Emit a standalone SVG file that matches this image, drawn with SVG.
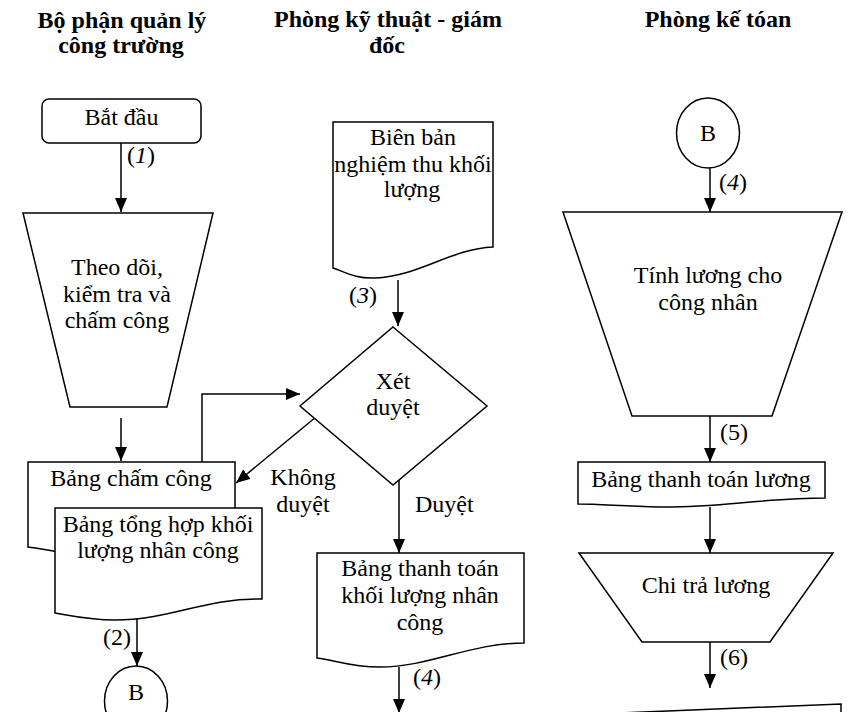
<svg xmlns="http://www.w3.org/2000/svg" width="849" height="712" viewBox="0 0 849 712">
  <defs>
    <marker id="arrow" viewBox="0 0 14 12" refX="14" refY="6" markerWidth="14" markerHeight="12" markerUnits="userSpaceOnUse" orient="auto">
      <path d="M0,0 L14,6 L0,12 Z" fill="#000"/>
    </marker>
    <style>
      .shape { fill: #fff; stroke: #000; stroke-width: 1.5; }
      .line { fill: none; stroke: #000; stroke-width: 1.5; }
      .arr { fill: none; stroke: #000; stroke-width: 1.5; marker-end: url(#arrow); }
      text { font-family: "Liberation Serif", "Times New Roman", serif; font-size: 24px; fill: #000; }
      .title { font-weight: bold; text-anchor: middle; }
      .c { text-anchor: middle; }
      .it { font-style: italic; }
    </style>
  </defs>
  <rect width="849" height="712" fill="#fff"/>

  <!-- lane headings -->
  <g id="lane-headings">
    <text class="title" x="122" y="28">Bộ phận quản lý</text>
    <text class="title" x="121" y="53">công trường</text>
    <text class="title" x="388" y="27">Phòng kỹ thuật - giám</text>
    <text class="title" x="387" y="53">đốc</text>
    <text class="title" x="718" y="27">Phòng kế tóan</text>
  </g>

  <!-- connectors -->
  <g id="connectors">
    <line class="arr" x1="121" y1="143" x2="121" y2="212"/>
    <line class="arr" x1="121" y1="418" x2="121" y2="461"/>
    <polyline class="arr" points="202,462 202,394 300,394"/>
    <line class="arr" x1="316" y1="417" x2="236" y2="483"/>
    <line class="arr" x1="398" y1="280" x2="398" y2="326"/>
    <line class="arr" x1="399" y1="480" x2="399" y2="553"/>
    <line class="arr" x1="399" y1="667" x2="399" y2="713"/>
    <line class="arr" x1="137" y1="619" x2="137" y2="666"/>
    <line class="arr" x1="710" y1="168" x2="710" y2="212"/>
    <line class="arr" x1="710" y1="416" x2="710" y2="462"/>
    <line class="arr" x1="710" y1="507" x2="710" y2="553"/>
    <line class="arr" x1="710" y1="642" x2="710" y2="688"/>
    <text x="127" y="163">(<tspan class="it">1</tspan>)</text>
    <text x="103" y="645">(2)</text>
    <text x="349" y="303">(<tspan class="it">3</tspan>)</text>
    <text x="413" y="685">(<tspan class="it">4</tspan>)</text>
    <text x="719" y="190">(<tspan class="it">4</tspan>)</text>
    <text x="720" y="440">(5)</text>
    <text x="720" y="665">(6)</text>
    <text class="c" x="303" y="485">Không</text>
    <text class="c" x="303" y="512">duyệt</text>
    <text x="415" y="512">Duyệt</text>
  </g>

  <!-- start terminator -->
  <g id="start">
    <rect class="shape" x="42" y="99" width="159" height="44" rx="7"/>
    <text class="c" x="121.5" y="125">Bắt đầu</text>
  </g>

  <!-- manual operation: timekeeping -->
  <g id="timekeeping">
    <polygon class="shape" points="23,213 213,213 167,407 70,407"/>
    <text class="c" x="117" y="275">Theo dõi,</text>
    <text class="c" x="117" y="302">kiểm tra và</text>
    <text class="c" x="117" y="328">chấm công</text>
  </g>

  <!-- stacked documents -->
  <g id="timesheet">
    <path class="shape" d="M28,462 H235 V535 C180,535 140,556 90,555 C70,555 45,549 28,547 Z"/>
    <text class="c" x="131" y="486">Bảng chấm công</text>
  </g>
  <g id="labour-summary">
    <path class="shape" d="M55,508 H262 V599 C205,598 170,620 115,620 C90,620 72,616 55,613 Z"/>
    <text class="c" x="158" y="532">Bảng tổng hợp khối</text>
    <text class="c" x="158" y="558">lượng nhân công</text>
  </g>

  <!-- connector B (left) -->
  <g id="connector-b-left">
    <ellipse class="shape" cx="136" cy="701" rx="31.5" ry="35"/>
    <text class="c" x="136" y="700">B</text>
  </g>

  <!-- acceptance record -->
  <g id="acceptance-record">
    <path class="shape" d="M333,122 H493 V247 C450,249 420,276 375,278 C356,279 345,272 333,268 Z"/>
    <text class="c" x="413" y="145">Biên bản</text>
    <text class="c" x="413" y="172">nghiệm thu khối</text>
    <text class="c" x="412" y="197">lượng</text>
  </g>

  <!-- decision -->
  <g id="review">
    <polygon class="shape" points="393,327 487,406 393,485 300,406"/>
    <text class="c" x="393" y="389">Xét</text>
    <text class="c" x="393" y="415">duyệt</text>
  </g>

  <!-- payment statement -->
  <g id="payment-statement">
    <path class="shape" d="M317,553 H524 V643 C470,643 430,667 380,667 C350,667 335,660 317,658 Z"/>
    <text class="c" x="420" y="576">Bảng thanh toán</text>
    <text class="c" x="420" y="603">khối lượng nhân</text>
    <text class="c" x="420" y="630">công</text>
  </g>

  <!-- connector B (right) -->
  <g id="connector-b-right">
    <ellipse class="shape" cx="708" cy="133" rx="31.5" ry="35"/>
    <text class="c" x="708" y="141">B</text>
  </g>

  <!-- payroll calculation -->
  <g id="payroll">
    <polygon class="shape" points="563,212 842,212 772,416 632,416"/>
    <text class="c" x="708" y="283">Tính lương cho</text>
    <text class="c" x="708" y="310">công nhân</text>
  </g>

  <!-- payroll sheet -->
  <g id="payroll-sheet">
    <path class="shape" d="M578,462 H825 V498 C765,498 715,508 660,507 C620,506 600,504 578,504 Z"/>
    <text class="c" x="701" y="487">Bảng thanh toán lương</text>
  </g>

  <!-- salary payout -->
  <g id="payout">
    <polygon class="shape" points="579,553 833,553 770,642 642,642"/>
    <text class="c" x="706" y="593">Chi trả lương</text>
  </g>

  <!-- next step (continues below) -->
  <g id="next-step">
    <path class="shape" d="M619,713 L841,704 V716 H619 Z"/>
  </g>
</svg>
